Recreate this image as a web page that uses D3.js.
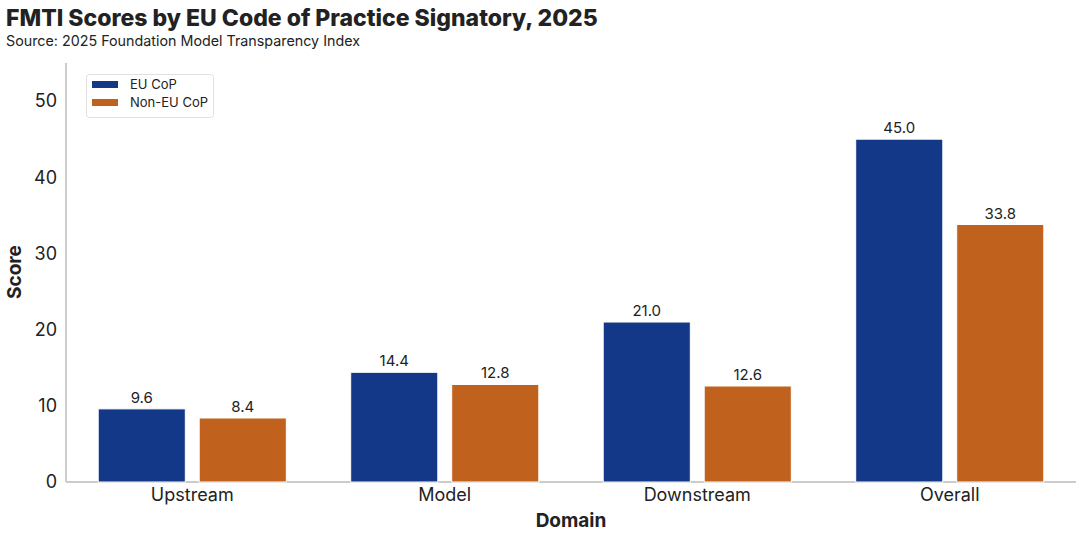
<!DOCTYPE html>
<html>
<head>
<meta charset="utf-8">
<script src="https://cdn.jsdelivr.net/npm/d3@7"></script>
<style>
  body { margin: 0; background: #fff; }
  svg text { font-family: Inter, "Noto Sans", sans-serif; fill: #222; }
</style>
</head>
<body>
<svg id="chart" width="1080" height="537"></svg>
<script>
const dominios = ["Upstream", "Model", "Downstream", "Overall"];
const euCop    = [9.6, 14.4, 21.0, 45.0];
const noEuCop  = [8.4, 12.8, 12.6, 33.8];
const series   = ["EU CoP", "Non-EU CoP"];
const colores  = ["#143888", "#c0621d"];
const ticksY   = [0, 10, 20, 30, 40, 50];

const svg = d3.select('#chart');

const x = d3.scaleBand().domain(dominios).range([66, 1076]).padding(0);
const y = d3.scaleLinear().domain([0, 55]).range([482, 63]);

// titulos
svg.append('text').attr('x', 6).attr('y', 26)
  .style('font-size', '23px').style('font-weight', 800)
  .text('FMTI Scores by EU Code of Practice Signatory, 2025');
svg.append('text').attr('x', 6).attr('y', 46)
  .style('font-size', '14.3px')
  .text('Source: 2025 Foundation Model Transparency Index');

// ejes
const ejeY = svg.append('g').attr('transform', 'translate(66,0)')
  .call(d3.axisLeft(y).tickValues(ticksY).tickSize(0).tickPadding(9));
const ejeX = svg.append('g').attr('transform', 'translate(0,482)')
  .call(d3.axisBottom(x).tickSize(0).tickPadding(6));
[ejeY, ejeX].forEach(g => {
  g.select('.domain').attr('stroke', '#cccccc').attr('stroke-width', 2);
  g.selectAll('text').style('font-size', '18px').attr('fill', '#222');
});
ejeX.select('.domain').attr('d', 'M66,0H1076');
ejeY.select('.domain').attr('d', 'M0,' + y(0) + 'V' + y(55));

svg.append('text').attr('x', 571).attr('y', 527).attr('text-anchor', 'middle')
  .style('font-size', '19px').style('font-weight', 700).text('Domain');
svg.append('text').attr('transform', 'translate(21,272) rotate(-90)')
  .attr('text-anchor', 'middle')
  .style('font-size', '19px').style('font-weight', 700).text('Score');

// barras
const anchoBarra = x.bandwidth() * 0.345;
const offset = x.bandwidth() * 0.2;
[euCop, noEuCop].forEach((valores, i) => {
  const g = svg.append('g');
  const desplaz = i === 0 ? -offset : offset;
  g.selectAll('rect')
    .data(valores)
    .join('rect')
    .attr('x', (d, j) => x(dominios[j]) + x.bandwidth() / 2 + desplaz - anchoBarra / 2)
    .attr('y', d => y(d))
    .attr('width', anchoBarra)
    .attr('height', d => y(0) - y(d))
    .attr('fill', colores[i])
    .attr('stroke', '#ffffff')
    .attr('stroke-width', 1);
  g.selectAll('text')
    .data(valores)
    .join('text')
    .attr('x', (d, j) => x(dominios[j]) + x.bandwidth() / 2 + desplaz)
    .attr('y', d => y(d) - 6)
    .attr('text-anchor', 'middle')
    .style('font-size', '15px')
    .text(d => d.toFixed(1));
});

// leyenda
const ley = svg.append('g');
ley.append('rect').attr('x', 86.5).attr('y', 74.5).attr('width', 127).attr('height', 43)
  .attr('rx', 3).attr('fill', '#fff').attr('stroke', '#e0e0e0');
series.forEach((s, i) => {
  ley.append('rect').attr('x', 92).attr('y', 81 + i * 18).attr('width', 26).attr('height', 7)
    .attr('fill', colores[i]);
  ley.append('text').attr('x', 130).attr('y', 89 + i * 18)
    .style('font-size', '13px').text(s);
});
</script>
</body>
</html>
